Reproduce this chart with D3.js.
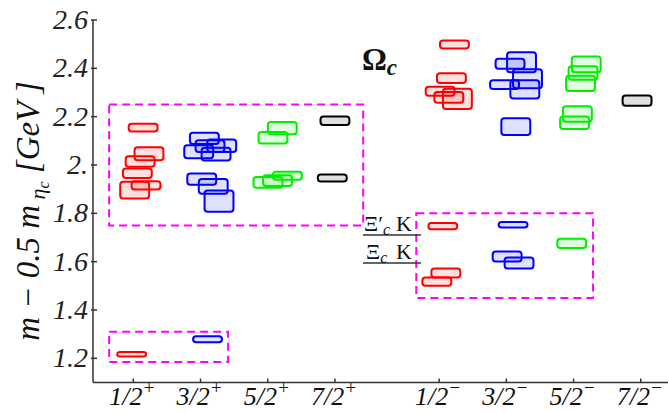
<!DOCTYPE html>
<html><head><meta charset="utf-8">
<script src="https://cdn.jsdelivr.net/npm/d3@7"></script>
<style>body{margin:0;background:#fff}svg{display:block}</style>
</head><body>
<svg id="c" width="668" height="413"></svg>
<script>
// ---- data ----
const categories = ["1/2","3/2","5/2","7/2","1/2","3/2","5/2","7/2"];
const parities = ["+","+","+","+","\u2212","\u2212","\u2212","\u2212"];
const categoryPos = [1,2,3,4,5.55,6.55,7.55,8.55];
const yTicks = [1.2,1.4,1.6,1.8,2.0,2.2,2.4,2.6];
const yTickLabels = ["1.2","1.4","1.6","1.8","2.","2.2","2.4","2.6"];
// [category index, x offset, mass low, mass high]
const redBoxes = [
  [0,0.146,2.139,2.171],[0,0.233,2.020,2.073],[0,0.101,1.993,2.036],[0,0.06,1.946,1.986],
  [0,0.189,1.899,1.933],[0,0.02,1.861,1.931],[0,-0.025,1.208,1.226],
  [4,0.228,2.482,2.515],[4,0.183,2.339,2.380],[4,0.015,2.287,2.324],[4,0.144,2.258,2.302],
  [4,0.272,2.232,2.316],[4,0.055,1.734,1.760],[4,0.1,1.535,1.572],[4,-0.034,1.500,1.535]
];
const blueBoxes = [
  [1,0.057,2.087,2.133],[1,-0.027,2.028,2.082],[1,0.141,2.054,2.102],[1,0.315,2.054,2.106],
  [1,0.231,2.019,2.071],[1,0.018,1.918,1.965],[1,0.189,1.881,1.942],[1,0.275,1.807,1.895],
  [1,0.104,1.267,1.291],
  [5,0.226,2.384,2.467],[5,0.055,2.398,2.440],[5,0.315,2.318,2.396],[5,-0.027,2.314,2.351],
  [5,0.275,2.275,2.351],[5,0.141,2.124,2.193],[5,0.1,1.741,1.764],[5,0.012,1.601,1.642],
  [5,0.189,1.572,1.617]
];
const greenBoxes = [
  [2,0.216,2.127,2.178],[2,0.077,2.089,2.137],[2,0.293,1.939,1.972],[2,0.146,1.913,1.958],
  [2,0.004,1.906,1.950],
  [6,0.189,2.384,2.449],[6,0.141,2.353,2.409],[6,0.104,2.306,2.369],[6,0.057,2.179,2.243],
  [6,0.015,2.149,2.201],[6,-0.027,1.657,1.695]
];
const blackBoxes = [
  [3,0,2.166,2.201],[3,-0.04,1.932,1.961],[7,-0.055,2.245,2.288]
];
// dashed regions [x0, x1, y0, y1] in data units
const regions = [[0.64,4.42,1.75,2.25],[0.64,2.41,1.185,1.31],[5.21,7.84,1.45,1.80]];
// thresholds
const thresholdLabels = [["\u039E","\u2032","c","K"],["\u039E","","c","K"]];
const thresholdValues = [1.71,1.595];

// ---- chart ----
const svg = d3.select("#c");
const x = d3.scaleLinear().domain([0.4, 9]).range([93, 671]);
const y = d3.scaleLinear().domain([1.1, 2.6]).range([382.5, 20]);
const serif = "'Liberation Serif','DejaVu Serif',serif";
const boxW = 0.43;

// dashed regions
svg.append("g").selectAll("rect").data(regions).join("rect")
  .attr("x", d => x(d[0])).attr("y", d => y(d[3]))
  .attr("width", d => x(d[1]) - x(d[0])).attr("height", d => y(d[2]) - y(d[3]))
  .attr("fill", "none").attr("stroke", "#ff00ff").attr("stroke-width", 2)
  .attr("stroke-dasharray", "8,5");

const series = [
  {data: redBoxes, color: "#ff0000"},
  {data: blueBoxes, color: "#0000ff"},
  {data: greenBoxes, color: "#00ee00"},
  {data: blackBoxes, color: "#000000"}
];
series.forEach(s => {
  svg.append("g").selectAll("rect").data(s.data).join("rect")
    .attr("x", d => x(categoryPos[d[0]] + d[1] - boxW/2))
    .attr("y", d => y(d[3]))
    .attr("width", d => x(categoryPos[d[0]] + d[1] + boxW/2) - x(categoryPos[d[0]] + d[1] - boxW/2))
    .attr("height", d => y(d[2]) - y(d[3]))
    .attr("rx", 3).attr("ry", 3)
    .attr("fill", s.color).attr("fill-opacity", 0.12)
    .attr("stroke", s.color).attr("stroke-width", 2);
});

// axes
const ax = svg.append("g").attr("stroke", "#333").attr("stroke-width", 1.5);
ax.append("line").attr("x1", x(0.4)).attr("x2", 668).attr("y1", y(1.1)).attr("y2", y(1.1));
ax.append("line").attr("x1", x(0.4)).attr("x2", x(0.4)).attr("y1", y(1.1)).attr("y2", y(2.6));
ax.selectAll(".yt").data(yTicks).join("line")
  .attr("x1", x(0.4) - 2).attr("x2", x(0.4) + 4).attr("y1", d => y(d)).attr("y2", d => y(d));
ax.selectAll(".xt").data(categoryPos).join("line")
  .attr("x1", d => x(d)).attr("x2", d => x(d)).attr("y1", y(1.1)).attr("y2", y(1.1) - 4);

svg.append("g").selectAll("text").data(yTicks).join("text")
  .attr("x", x(0.4) - 5).attr("y", d => y(d) + 9)
  .attr("text-anchor", "end").attr("font-family", serif).attr("font-style", "italic")
  .attr("font-size", 28).attr("fill", "#222")
  .text((d, i) => yTickLabels[i]);

const xl = svg.append("g").selectAll("text").data(categoryPos).join("text")
  .attr("x", d => x(d) - 1).attr("y", 405)
  .attr("text-anchor", "middle").attr("font-family", serif).attr("font-style", "italic")
  .attr("font-size", 26).attr("fill", "#111");
xl.append("tspan").text((d, i) => categories[i]);
xl.append("tspan").attr("font-size", 19).attr("dy", -11).text((d, i) => parities[i]);

// y label
const yl = svg.append("text").attr("transform", "translate(39,211) rotate(-90)")
  .attr("text-anchor", "middle").attr("font-family", serif).attr("font-style", "italic")
  .attr("font-size", 33).attr("fill", "#111");
yl.append("tspan").text("m \u2212 0.5 m");
yl.append("tspan").attr("font-size", 22).attr("dy", 6).text(" \u03B7");
yl.append("tspan").attr("font-size", 16).attr("dy", 4).text("c");
yl.append("tspan").attr("dy", -10).text(" [GeV ]");

// Omega_c label
const om = svg.append("text").attr("x", 362).attr("y", 70)
  .attr("font-family", serif).attr("font-weight", "bold").attr("font-size", 31).attr("fill", "#111");
om.append("tspan").text("\u03A9");
om.append("tspan").attr("font-style", "italic").attr("font-size", 23).attr("dy", 5).text("c");

// threshold labels and lines
thresholdValues.forEach((v, i) => {
  const ty = y(v);
  svg.append("line").attr("x1", 363).attr("x2", 421).attr("y1", ty).attr("y2", ty)
    .attr("stroke", "#333").attr("stroke-width", 1.5);
  const t = svg.append("text").attr("x", i === 0 ? 364 : 366).attr("y", ty - 4)
    .attr("font-family", serif).attr("font-size", 22).attr("fill", "#111");
  const L = thresholdLabels[i];
  t.append("tspan").text(L[0] + L[1]);
  t.append("tspan").attr("font-style", "italic").attr("font-size", 16).attr("dy", 4).text(L[2]);
  t.append("tspan").attr("x", 396).attr("dy", -4).text(L[3]);
});
</script>
</body></html>
